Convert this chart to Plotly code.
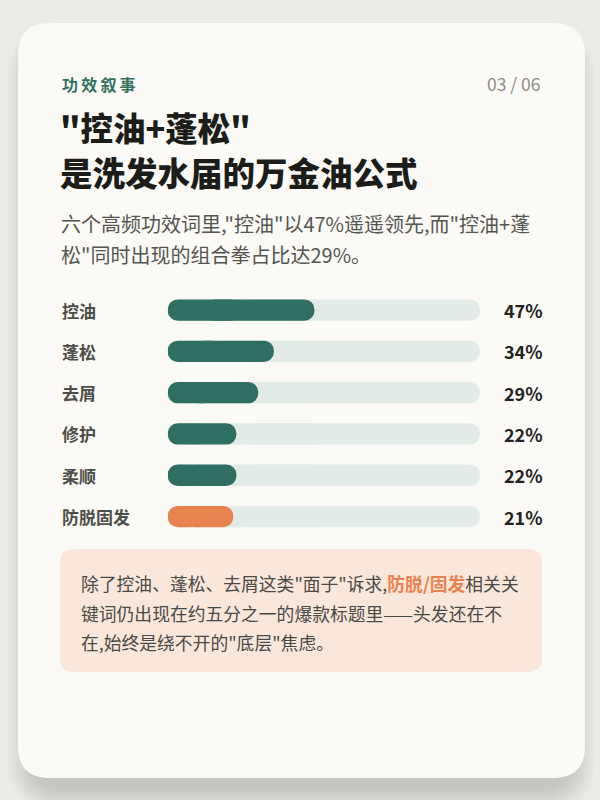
import plotly.graph_objects as go

W, H = 600, 800
FONT = "Noto Sans CJK SC"

# data
categories = ["控油", "蓬松", "去屑", "修护", "柔顺", "防脱固发"]
shares = [47, 34, 29, 22, 22, 21]
highlight = "防脱固发"
full_scale = 100

kicker = "功效叙事"
page_no = "03 / 06"
title_lines = ['"控油+蓬松"', "是洗发水届的万金油公式"]
subtitle_lines = [
    '六个高频功效词里,"控油"以47%遥遥领先,而"控油+蓬',
    '松"同时出现的组合拳占比达29%。',
]
note_lines = [
    '除了控油、蓬松、去屑这类"面子"诉求,<b><span style="color:#e8834f">防脱/固发</span></b>相关关',
    "键词仍出现在约五分之一的爆款标题里——头发还在不",
    '在,始终是绕不开的"底层"焦虑。',
]

GREEN = "#2f6f62"
ORANGE = "#e8834f"
TRACK = "#e3ebe8"


def px(x):
    return x / W


def py(y):
    return 1 - y / H


def rounded_rect(x0, y0, x1, y1, r):
    # pixel box -> svg path in paper coords
    pts = [
        ("M", [(x0 + r, y0)]),
        ("L", [(x1 - r, y0)]),
        ("Q", [(x1, y0), (x1, y0 + r)]),
        ("L", [(x1, y1 - r)]),
        ("Q", [(x1, y1), (x1 - r, y1)]),
        ("L", [(x0 + r, y1)]),
        ("Q", [(x0, y1), (x0, y1 - r)]),
        ("L", [(x0, y0 + r)]),
        ("Q", [(x0, y0), (x0 + r, y0)]),
    ]
    path = ""
    for cmd, coords in pts:
        path += cmd + " " + " ".join(f"{px(a):.5f},{py(b):.5f}" for a, b in coords) + " "
    return path + "Z"


def pill(fig, values, colors, xaxis):
    # plotly only rounds the far end of a bar (away from its base), so each
    # pill is two overlapping pieces: one grown rightwards, one leftwards
    fig.add_trace(
        go.Bar(
            x=[v * 3 / 4 for v in values],
            base=[v / 4 for v in values],
            y=categories,
            orientation="h",
            marker=dict(color=colors, cornerradius="50%", line_width=0),
            hoverinfo="skip",
            xaxis=xaxis[0],
        )
    )
    fig.add_trace(
        go.Bar(
            x=[-v / 2 for v in values],
            base=[v / 2 for v in values],
            y=categories,
            orientation="h",
            marker=dict(color=colors, cornerradius="50%", line_width=0),
            hoverinfo="skip",
            xaxis=xaxis[1],
        )
    )


fig = go.Figure()
pill(fig, [full_scale] * len(categories), TRACK, ["x", "x2"])
pill(
    fig,
    shares,
    [ORANGE if c == highlight else GREEN for c in categories],
    ["x3", "x4"],
)

shapes = []
# card shadow, heavier under the card
for i in range(12):
    e = 2 * i
    shapes.append(
        dict(
            type="path",
            path=rounded_rect(30 - e, 47 - e, 573 + e, 790 + e, 32 + e),
            xref="paper",
            yref="paper",
            fillcolor="rgba(45,55,40,0.017)",
            line_width=0,
            layer="below",
        )
    )
# card
shapes.append(
    dict(
        type="path",
        path=rounded_rect(18, 23, 585, 778, 32),
        xref="paper",
        yref="paper",
        fillcolor="#fbfaf6",
        line_width=0,
        layer="below",
    )
)
# note box
shapes.append(
    dict(
        type="path",
        path=rounded_rect(60, 549, 542, 672, 14),
        xref="paper",
        yref="paper",
        fillcolor="#fbe6da",
        line_width=0,
        layer="below",
    )
)

annotations = []


def text(s, x, y, size, color, xanchor="left", weight="normal", yref="paper"):
    annotations.append(
        dict(
            text=s,
            x=px(x),
            y=py(y) if yref == "paper" else y,
            xref="paper",
            yref=yref,
            xanchor=xanchor,
            yanchor="middle",
            showarrow=False,
            font=dict(family=FONT, size=size, color=color, weight=weight),
        )
    )


text("\u2009".join(kicker), 60, 84, 16, "#33705f", weight="bold")
text(page_no, 543, 84, 17.5, "#8c8c86", xanchor="right")
for i, line in enumerate(title_lines):
    text(line, 58, 127 + i * 44, 32.5, "#1c1c18", weight=900)
for i, line in enumerate(subtitle_lines):
    text(line, 59, 223 + i * 32, 20, "#55554f")

# bar labels and values
for c, v in zip(categories, shares):
    text(c, 60, c, 17, "#4e4e48", weight="bold", yref="y")
    text(f"{v}%", 545, c, 18, "#222220", xanchor="right", weight="bold", yref="y")

for i, line in enumerate(note_lines):
    text(line, 79, 583 + i * 29.5, 17.8, "#4a4a45")

bar_top, bar_bottom = 289.4, 537.2
x_domain = [px(167.7), px(480)]
hidden_x = dict(domain=x_domain, range=[0, full_scale], visible=False, fixedrange=True)

fig.update_layout(
    width=W,
    height=H,
    margin=dict(l=0, r=0, t=0, b=0),
    paper_bgcolor="#eaebe6",
    plot_bgcolor="rgba(0,0,0,0)",
    barmode="overlay",
    bargap=0.484,
    showlegend=False,
    shapes=shapes,
    annotations=annotations,
    xaxis=hidden_x,
    xaxis2=dict(hidden_x, overlaying="x"),
    xaxis3=dict(hidden_x, overlaying="x"),
    xaxis4=dict(hidden_x, overlaying="x"),
    yaxis=dict(
        domain=[py(bar_bottom), py(bar_top)],
        autorange="reversed",
        visible=False,
        fixedrange=True,
    ),
)

fig.write_html(
    "out.html",
    config={"displayModeBar": False},
    post_script="document.body.style.margin='0';",
)
